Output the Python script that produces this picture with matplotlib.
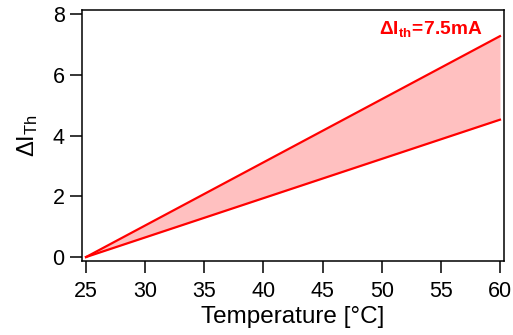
import matplotlib
matplotlib.use("Agg")
import matplotlib.pyplot as plt
import numpy as np

temperature = [25, 60]
upper = [0.0, 7.27]
lower = [0.0, 4.52]
xticks = [25, 30, 35, 40, 45, 50, 55, 60]
yticks = [0, 2, 4, 6, 8]

plt.rcParams['font.family'] = ['Liberation Sans', 'DejaVu Sans']
plt.rcParams['mathtext.fontset'] = 'custom'
plt.rcParams['mathtext.rm'] = 'Liberation Sans'
plt.rcParams['mathtext.it'] = 'Liberation Sans'
plt.rcParams['mathtext.bf'] = 'Liberation Sans:bold'

fig = plt.figure(figsize=(5.13, 3.35), dpi=100)
ax = fig.add_axes([82/513, 1-261/335, (504-82)/513, (261-10)/335])

ax.fill_between(temperature, lower, upper, color='#ffc0c0', linewidth=0)
ax.plot(temperature, upper, color='#ff0000', lw=1.6)
ax.plot(temperature, lower, color='#ff0000', lw=1.6)

ax.set_xlim(24.66, 60.34)
ax.set_ylim(-0.13, 8.13)
ax.set_xticks(xticks)
ax.set_yticks(yticks)
ax.tick_params(direction='out', length=8.5, width=1.1, labelsize=15.5)
ax.tick_params(axis='x', pad=6)
ax.tick_params(axis='y', pad=4)
for s in ax.spines.values():
    s.set_linewidth(1.1)

ax.set_xlabel('Temperature [°C]', fontsize=17.5, labelpad=3)
ax.set_ylabel(r'$\Delta\mathregular{I_{Th}}$', fontsize=17, labelpad=9)

ax.text(0.948, 0.925, r'$\mathbf{\Delta I_{th}\!=\!7.5mA}$', transform=ax.transAxes,
        ha='right', va='center', color='#ff0000', fontsize=13.8)

fig.savefig('out.png', dpi=100)
